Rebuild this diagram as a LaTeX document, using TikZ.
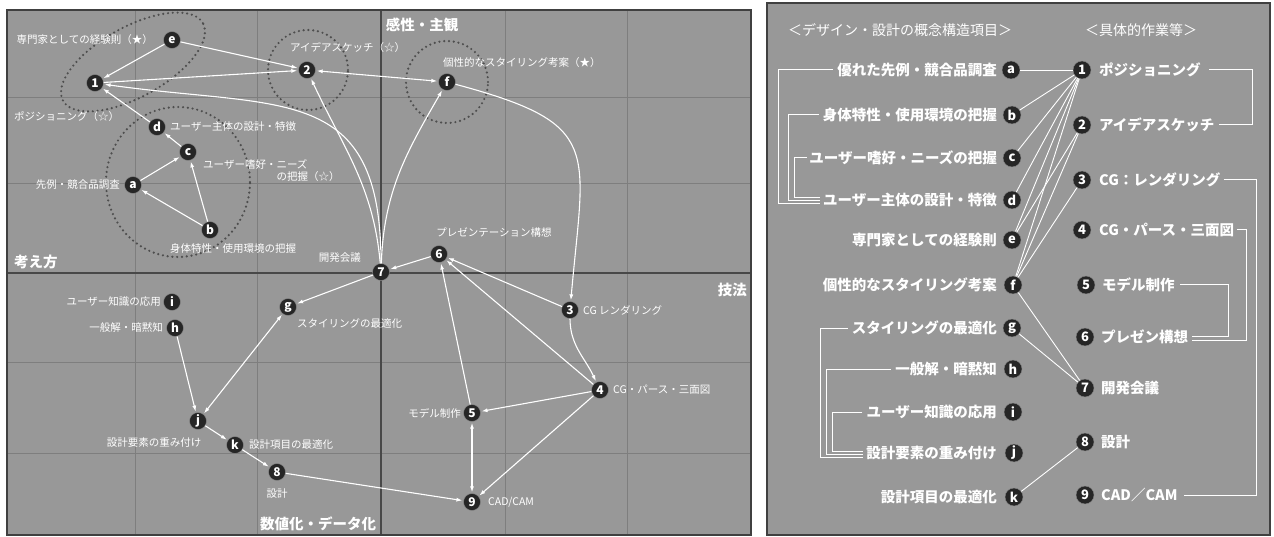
\documentclass[tikz,border=0pt]{standalone}
\usepackage{fontspec}
\setmainfont{Noto Sans CJK JP}
\usetikzlibrary{arrows.meta}

\definecolor{panel}{RGB}{152,152,152}
\definecolor{gridc}{RGB}{126,126,126}
\definecolor{axisc}{RGB}{72,72,72}
\definecolor{dotc}{RGB}{78,78,78}

\begin{document}
\begin{tikzpicture}[x=1pt, y=1pt,
    num/.style={circle, fill=black!85, draw=black!45, text=white, inner sep=0pt,
      minimum size=17pt, font=\bfseries\fontsize{12}{12}\selectfont},
    bignum/.style={num, minimum size=18pt, font=\bfseries\fontsize{13}{13}\selectfont},
    lbl/.style={text=white, inner sep=0pt, font=\fontsize{10.5}{12}\selectfont},
    axlbl/.style={text=white, inner sep=0pt, font=\bfseries\fontsize{14.5}{15}\selectfont},
    itemtext/.style={text=white, inner sep=0pt, font=\bfseries\fontsize{14.5}{15}\selectfont},
    arr/.style={white, line width=1.1pt, -{Latex[length=6pt,width=4pt]}, shorten >=1pt},
    darr/.style={arr, {Latex[length=6pt,width=4pt]}-{Latex[length=6pt,width=4pt]}, shorten <=1pt},
    dotring/.style={dotc, line width=2.4pt, dash pattern=on 0pt off 4.8pt, line cap=round},
    lnk/.style={white, line width=0.9pt},
    brk/.style={white, line width=1pt}]
  \useasboundingbox (0,0) rectangle (1274,-537);

  % left panel: map
  \fill[panel] (7,-10) rectangle (751,-535);
  \foreach \x in {135,257,505,627}
    \draw[gridc, line width=0.8pt] (\x,-10) -- (\x,-535);
  \foreach \y in {97,183,362,453}
    \draw[gridc, line width=0.8pt] (7,-\y) -- (751,-\y);
  \draw[axisc, line width=1.4pt] (381,-10) -- (381,-535);
  \draw[axisc, line width=1.4pt] (7,-273) -- (751,-273);
  \draw[black!75, line width=1.6pt] (7,-10) rectangle (751,-535);

  \draw[dotring, rotate around={29:(133,-62)}] (133,-62) ellipse [x radius=80pt, y radius=35pt];
  \draw[dotring] (308,-70) circle [radius=40pt];
  \draw[dotring] (447,-82) circle [radius=41pt];
  \draw[dotring] (178,-182) ellipse [x radius=72pt, y radius=75pt];

  \node[axlbl] (top) at (422,-25) {感性・主観};
  \node[axlbl] (bottom) at (318,-524) {数値化・データ化};
  \node[axlbl, anchor=west] (left) at (14,-262) {考え方};
  \node[axlbl, anchor=east] (right) at (747,-290) {技法};

  \draw
    (172,-40) node[num] (pe){e}
    (95,-83) node[num] (p1){1}
    (307,-70) node[num] (p2){2}
    (447,-82) node[num] (pf){f}
    (157,-127) node[num] (pd){d}
    (188,-152) node[num] (pc){c}
    (133,-185) node[num] (pa){a}
    (210,-230) node[num] (pb){b}
    (381,-272) node[num] (p7){7}
    (439,-254) node[num] (p6){6}
    (288,-307) node[num] (pg){g}
    (172,-302) node[num] (pi){i}
    (175,-328) node[num] (ph){h}
    (198,-421) node[num] (pj){j}
    (235,-445) node[num] (pk){k}
    (277,-472) node[num] (p8){8}
    (570,-310) node[num] (p3){3}
    (600,-390) node[num] (p4){4}
    (472,-413) node[num] (p5){5}
    (472,-502) node[num] (p9){9};

  \node[lbl, anchor=east] (le) at (153,-40) {専門家としての経験則（★）};
  \node[lbl, anchor=west] (l2) at (290,-48) {アイデアスケッチ（☆）};
  \node[lbl, anchor=west] (lf) at (443,-63) {個性的なスタイリング考案（★）};
  \node[lbl, anchor=west] (l1) at (14,-117) {ポジショニング（☆）};
  \node[lbl, anchor=west] (ld) at (170,-127) {ユーザー主体の設計・特徴};
  \node[lbl, anchor=north west, align=left] (lc) at (203,-159)
    {ユーザー嗜好・ニーズ\\\hspace*{7em}の把握（☆）};
  \node[lbl, anchor=east] (la) at (120,-185) {先例・競合品調査};
  \node[lbl] (lb) at (233,-249) {身体特性・使用環境の把握};
  \node[lbl, anchor=east] (l7) at (361,-258) {開発会議};
  \node[lbl] (l6) at (494,-233) {プレゼンテーション構想};
  \node[lbl, anchor=west] (lg) at (297,-324) {スタイリングの最適化};
  \node[lbl, anchor=east] (li) at (161,-302) {ユーザー知識の応用};
  \node[lbl, anchor=east] (lh) at (163,-328) {一般解・暗黙知};
  \node[lbl] (lj) at (154,-443) {設計要素の重み付け};
  \node[lbl, anchor=west] (lk) at (249,-445) {設計項目の最適化};
  \node[lbl] (l8) at (277,-494) {設計};
  \node[lbl, anchor=west] (l9) at (488,-502) {CAD/CAM};
  \node[lbl, anchor=east] (l5) at (461,-413) {モデル制作};
  \node[lbl, anchor=west] (l4) at (613,-390) {CG・パース・三面図};
  \node[lbl, anchor=west] (l3) at (583,-310) {CG レンダリング};

  \begin{scope}
    \draw[arr] (pe) to (p1);
    \draw[arr] (pe) to (p2);
    \draw[arr] (p1) to (p2);
    \draw[arr] (pd) to (p1);
    \draw[arr] (pc) to (pd);
    \draw[arr] (pa) to (pc);
    \draw[arr] (pb) to (pa);
    \draw[arr] (pb) to (pc);
    \draw[arr] (p7) to[out=90, in=-8, looseness=1.4] (p1);
    \draw[arr] (p7) to[out=95, in=-65] (p2);
    \draw[arr] (p7) to[out=88, in=-120] (pf);
    \draw[darr] (p2) to (pf);
    \draw[arr] (pf) to[out=-15, in=85, looseness=1.6] (p3);
    \draw[arr] (p6) to (p7);
    \draw[arr] (p7) to (pg);
    \draw[darr] (pg) to (pj);
    \draw[arr] (ph) to (pj);
    \draw[arr] (pj) to (pk);
    \draw[arr] (pk) to (p8);
    \draw[arr] (p8) to (p9);
    \draw[arr] (p3) to (p6);
    \draw[arr] (p3) to[out=-90, in=115] (p4);
    \draw[arr] (p4) to (p6);
    \draw[arr] (p4) to (p5);
    \draw[arr] (p5) to (p6);
    \draw[darr] (p5) to (p9);
    \draw[arr] (p4) to (p9);
  \end{scope}

  % right panel: list
  \fill[panel] (767,-3) rectangle (1270,-535);
  \draw[black!75, line width=1.6pt] (767,-3) rectangle (1270,-535);

  \node[itemtext, font=\fontsize{14}{15}\selectfont] (h1) at (900,-30) {＜デザイン・設計の概念構造項目＞};
  \node[itemtext, font=\fontsize{14}{15}\selectfont] (h2) at (1141,-30) {＜具体的作業等＞};

  \draw
    (1011,-70) node[bignum] (qa){a}
    (1012,-115) node[bignum] (qb){b}
    (1012,-158) node[bignum] (qc){c}
    (1012,-200) node[bignum] (qd){d}
    (1012,-240) node[bignum] (qe){e}
    (1013,-285) node[bignum] (qf){f}
    (1012,-328) node[bignum] (qg){g}
    (1013,-369) node[bignum] (qh){h}
    (1013,-412) node[bignum] (qi){i}
    (1014,-453) node[bignum] (qj){j}
    (1014,-497) node[bignum] (qk){k}
    (1082,-70) node[bignum] (q1){1}
    (1082,-125) node[bignum] (q2){2}
    (1082,-180) node[bignum] (q3){3}
    (1082,-230) node[bignum] (q4){4}
    (1086,-285) node[bignum] (q5){5}
    (1085,-337) node[bignum] (q6){6}
    (1085,-388) node[bignum] (q7){7}
    (1085,-442) node[bignum] (q8){8}
    (1085,-495) node[bignum] (q9){9};

  \node[itemtext, anchor=east] (ta) at (997,-70) {優れた先例・競合品調査};
  \node[itemtext, anchor=east] (tb) at (997,-115) {身体特性・使用環境の把握};
  \node[itemtext, anchor=east] (tc) at (997,-158) {ユーザー嗜好・ニーズの把握};
  \node[itemtext, anchor=east] (td) at (997,-200) {ユーザー主体の設計・特徴};
  \node[itemtext, anchor=east] (te) at (997,-240) {専門家としての経験則};
  \node[itemtext, anchor=east] (tf) at (997,-285) {個性的なスタイリング考案};
  \node[itemtext, anchor=east] (tg) at (997,-328) {スタイリングの最適化};
  \node[itemtext, anchor=east] (th) at (997,-369) {一般解・暗黙知};
  \node[itemtext, anchor=east] (ti) at (997,-412) {ユーザー知識の応用};
  \node[itemtext, anchor=east] (tj) at (997,-453) {設計要素の重み付け};
  \node[itemtext, anchor=east] (tk) at (997,-497) {設計項目の最適化};

  \node[itemtext, anchor=west] (t1) at (1099,-70) {ポジショニング};
  \node[itemtext, anchor=west] (t2) at (1099,-125) {アイデアスケッチ};
  \node[itemtext, anchor=west] (t3) at (1099,-180) {CG：レンダリング};
  \node[itemtext, anchor=west] (t4) at (1099,-230) {CG・パース・三面図};
  \node[itemtext, anchor=west] (t5) at (1102,-285) {モデル制作};
  \node[itemtext, anchor=west] (t6) at (1101,-337) {プレゼン構想};
  \node[itemtext, anchor=west] (t7) at (1101,-388) {開発会議};
  \node[itemtext, anchor=west] (t8) at (1101,-442) {設計};
  \node[itemtext, anchor=west] (t9) at (1101,-495) {CAD／CAM};

  \begin{scope}
    \draw[lnk] (qa) -- (q1);
    \draw[lnk] (qb) -- (q1);
    \draw[lnk] (qc) -- (q1);
    \draw[lnk] (qd) -- (q1);
    \draw[lnk] (qe) -- (q1);
    \draw[lnk] (qe) -- (q2);
    \draw[lnk] (qf) -- (q1);
    \draw[lnk] (qf) -- (q2);
    \draw[lnk] (qf) -- (q3);
    \draw[lnk] (qf) -- (q7);
    \draw[lnk] (qg) -- (q7);
    \draw[lnk] (qk) -- (q8);
  \end{scope}

  % brackets
  \draw[brk] ([xshift=-4pt]ta.west) -| (778,-204) -- ([xshift=-3pt,yshift=-4pt]td.west);
  \draw[brk] ([xshift=-4pt]tb.west) -| (788,-201) -- ([xshift=-3pt,yshift=-1pt]td.west);
  \draw[brk] ([xshift=-2pt]tc.west) -| (794,-198) -- ([xshift=-3pt,yshift=2pt]td.west);
  \draw[brk] ([xshift=-4pt]tg.west) -| (820,-457) -- ([xshift=-3pt,yshift=-4pt]tj.west);
  \draw[brk] ([xshift=-4pt]th.west) -| (826,-454) -- ([xshift=-3pt,yshift=-1pt]tj.west);
  \draw[brk] ([xshift=-4pt]ti.west) -| (832,-451) -- ([xshift=-3pt,yshift=2pt]tj.west);
  \draw[brk] ([xshift=8pt]t1.east) -| (1252,-125) -- ([xshift=4pt]t2.east);
  \draw[brk] ([xshift=3pt]t3.east) -| (1256,-495) -- ([xshift=6pt]t9.east);
  \draw[brk] ([xshift=3pt]t4.east) -| (1246,-340) -- ([xshift=4pt,yshift=-3pt]t6.east);
  \draw[brk] ([xshift=5pt]t5.east) -| (1228,-336) -- ([xshift=4pt,yshift=1pt]t6.east);
\end{tikzpicture}
\end{document}
